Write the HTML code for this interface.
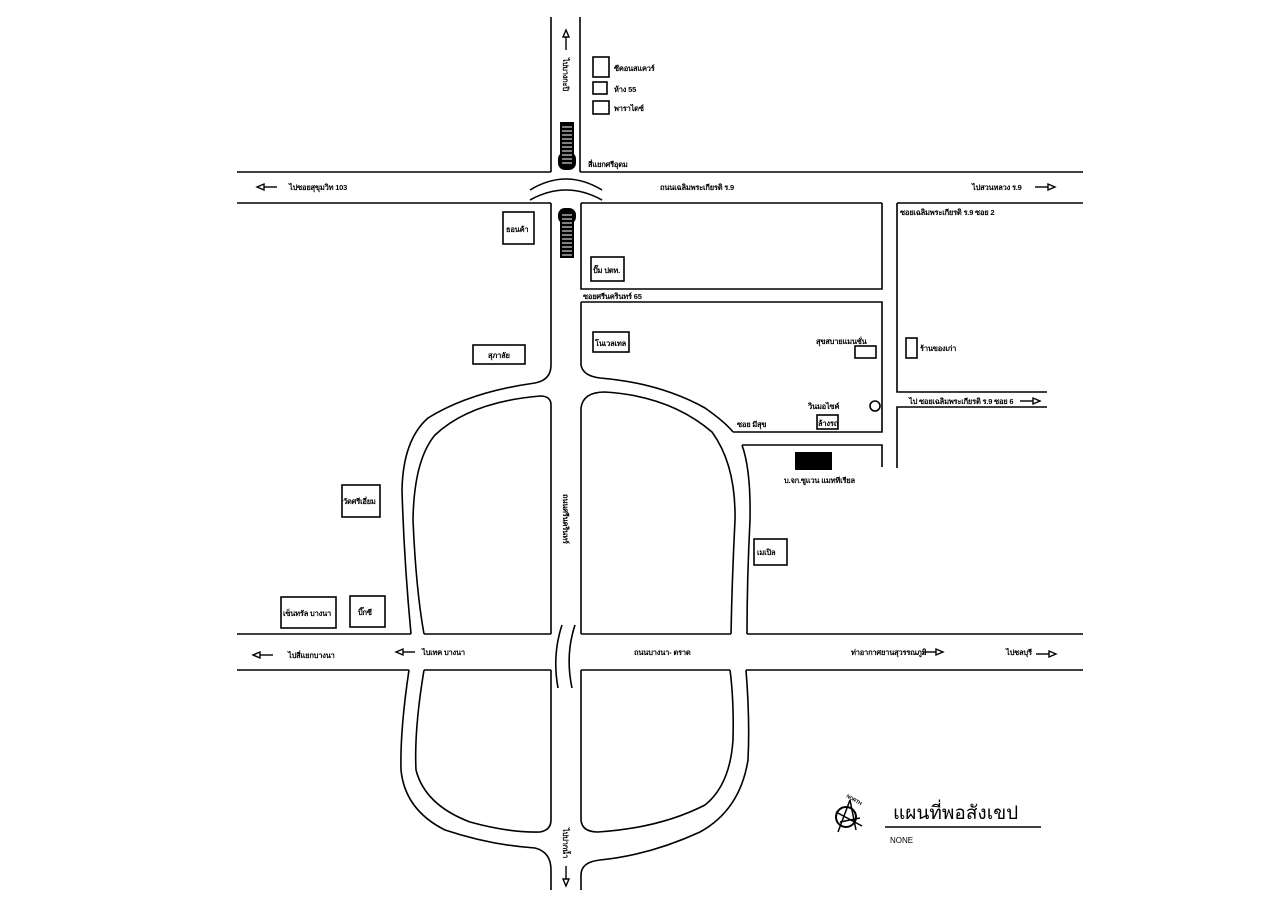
<!DOCTYPE html>
<html><head><meta charset="utf-8"><style>
html,body{margin:0;padding:0;background:#fff;width:1280px;height:905px;overflow:hidden}
svg{display:block}
text{font-family:"Liberation Sans","Noto Sans CJK SC",sans-serif;font-size:7.5px;font-weight:bold;fill:#000;letter-spacing:-0.2px}
</style></head><body>
<svg width="1280" height="905" viewBox="0 0 1280 905" xmlns="http://www.w3.org/2000/svg">
<g fill="none" stroke="#000" stroke-width="1.6">
<line x1="551" y1="17" x2="551" y2="172"/>
<line x1="580" y1="17" x2="580" y2="172"/>
<line x1="237" y1="172" x2="551" y2="172"/>
<line x1="580" y1="172" x2="1083" y2="172"/>
<line x1="237" y1="203" x2="551" y2="203"/>
<line x1="581" y1="203" x2="882" y2="203"/>
<line x1="897" y1="203" x2="1083" y2="203"/>
<path d="M530 190 Q566 168 602 190"/>
<path d="M530 200 Q566 180 602 200"/>
<path d="M882 203 V289 H581 V203"/>
<path d="M581 302 H882 V432 H733"/>
<path d="M742 445 H882 V467"/>
<path d="M897 203 V392 H1047"/>
<path d="M1047 407 H897 V468"/>
<path d="M551 203 V365 Q551 380 535 383 Q470 392 428 418 Q403 440 402 490 Q404 560 411 634"/>
<path d="M551 634 V405 Q551 396 540 396 Q470 402 435 435 Q414 460 413 520 Q416 590 424 634"/>
<path d="M581 302 V365 Q583 376 600 378 Q660 383 705 408 Q725 422 733 432"/>
<path d="M581 634 V408 Q583 392 605 392 Q670 396 712 432 Q736 465 735 520 Q732 580 731 634"/>
<path d="M742 445 Q751 470 750 520 Q747 580 747 634"/>
<line x1="237" y1="634" x2="411" y2="634"/>
<line x1="424" y1="634" x2="551" y2="634"/>
<line x1="581" y1="634" x2="731" y2="634"/>
<line x1="747" y1="634" x2="1083" y2="634"/>
<line x1="237" y1="670" x2="409" y2="670"/>
<line x1="424" y1="670" x2="551" y2="670"/>
<line x1="581" y1="670" x2="730" y2="670"/>
<line x1="746" y1="670" x2="1083" y2="670"/>
<path d="M562 625 Q552 655 558 688"/>
<path d="M575 625 Q565 655 572 688"/>
<path d="M409 670 Q400 730 401 770 Q405 810 445 830 Q490 845 535 848 Q551 852 551 870 V890"/>
<path d="M424 670 Q414 730 416 770 Q425 805 470 822 Q510 833 540 832 Q551 830 551 820 V670"/>
<path d="M581 670 V820 Q582 832 598 832 Q660 828 705 805 Q730 785 733 740 Q734 700 730 670"/>
<path d="M746 670 Q750 720 748 760 Q740 810 700 832 Q650 855 600 860 Q581 862 581 875 V890"/>
<rect x="593" y="57" width="16" height="20"/>
<rect x="593" y="82" width="14" height="12"/>
<rect x="593" y="101" width="16" height="13"/>
<rect x="503" y="212" width="31" height="32"/>
<rect x="591" y="257" width="33" height="24"/>
<rect x="473" y="345" width="52" height="19"/>
<rect x="593" y="332" width="36" height="20"/>
<rect x="855" y="346" width="21" height="12"/>
<circle cx="875" cy="406" r="5"/>
<rect x="817" y="415" width="21" height="14"/>
<rect x="906" y="338" width="11" height="20"/>
<rect x="342" y="485" width="38" height="32"/>
<rect x="281" y="597" width="55" height="31"/>
<rect x="350" y="596" width="35" height="31"/>
<rect x="754" y="539" width="33" height="26"/>
<line x1="885" y1="827" x2="1041" y2="827"/>
<circle cx="846" cy="817" r="10" stroke-width="2"/>
<path d="M850 800 L838 832 M850 800 L856 830 M836 812 L862 826 M840 822 L860 818" stroke-width="1.5"/>
</g>
<g fill="#fff" stroke="#000" stroke-width="1.4">
<path d="M263 187 H277"/><path d="M257 187 l7 -3 v6 z"/>
<path d="M1035 187 H1049"/><path d="M1055 187 l-7 -3 v6 z"/>
<path d="M1020 401 H1034"/><path d="M1040 401 l-7 -3 v6 z"/>
<path d="M259 655 H273"/><path d="M253 655 l7 -3 v6 z"/>
<path d="M402 652 H415"/><path d="M396 652 l7 -3 v6 z"/>
<path d="M923 652 H937"/><path d="M943 652 l-7 -3 v6 z"/>
<path d="M1036 654 H1050"/><path d="M1056 654 l-7 -3 v6 z"/>
<path d="M566 36 V50"/><path d="M566 30 l-3 7 h6 z"/>
<path d="M566 866 V880"/><path d="M566 886 l-3 -7 h6 z"/>
</g>
<g fill="#000">
<rect x="560" y="122" width="14" height="40"/>
<rect x="558" y="152" width="18" height="18" rx="7"/>
<rect x="560" y="216" width="14" height="42"/>
<rect x="558" y="208" width="18" height="16" rx="7"/>
<rect x="795" y="452" width="37" height="18"/>
</g>
<g stroke="#fff" stroke-width="1">
<path d="M562 127h10M562 131h10M562 135h10M562 139h10M562 143h10M562 147h10M562 151h10M562 155h10M562 159h10M562 163h10"/>
<path d="M562 215h10M562 219h10M562 223h10M562 227h10M562 231h10M562 235h10M562 239h10M562 243h10M562 247h10M562 251h10M562 255h10"/>
</g>
<text x="614" y="71">ซีคอนสแควร์</text>
<text x="614" y="92">ห้าง 55</text>
<text x="614" y="111">พาราไดซ์</text>
<text x="588" y="167">สี่แยกศรีอุดม</text>
<text x="660" y="190">ถนนเฉลิมพระเกียรติ ร.9</text>
<text x="289" y="190">ไปซอยสุขุมวิท 103</text>
<text x="972" y="190">ไปสวนหลวง ร.9</text>
<text x="506" y="232">ธอนค้า</text>
<text x="593" y="273">ปั๊ม ปตท.</text>
<text x="583" y="299">ซอยศรีนครินทร์ 65</text>
<text x="488" y="358">สุภาลัย</text>
<text x="595" y="346">โนเวลเทล</text>
<text x="816" y="344">สุขสบายแมนชั่น</text>
<text x="808" y="409">วินมอไซค์</text>
<text x="737" y="427">ซอย มีสุข</text>
<text x="818" y="426">ล้างรถ</text>
<text x="784" y="483">บ.จก.ซูแวน แมททีเรียล</text>
<text x="900" y="215">ซอยเฉลิมพระเกียรติ ร.9 ซอย 2</text>
<text x="920" y="351">ร้านของเก่า</text>
<text x="909" y="404">ไป ซอยเฉลิมพระเกียรติ ร.9 ซอย 6</text>
<text x="343" y="504">วัดศรีเอี่ยม</text>
<text x="283" y="616">เซ็นทรัล บางนา</text>
<text x="358" y="615">บิ๊กซี</text>
<text x="288" y="658">ไปสี่แยกบางนา</text>
<text x="422" y="655">ไบเทค บางนา</text>
<text x="634" y="655">ถนนบางนา- ตราด</text>
<text x="851" y="655">ท่าอากาศยานสุวรรณภูมิ</text>
<text x="1006" y="655">ไปชลบุรี</text>
<text x="757" y="555">เมเปิล</text>
<text transform="translate(563,494) rotate(90)">ถนนศรีนครินทร์</text>
<text transform="translate(563,58) rotate(90)">ไปบางกะปิ</text>
<text transform="translate(563,828) rotate(90)">ไปปากน้ำ</text>
<text x="893" y="819" style="font-size:19px;font-weight:normal;letter-spacing:0">แผนที่พอสังเขป</text>
<text x="890" y="843" style="font-size:8px;font-weight:normal;letter-spacing:0">NONE</text>
<text transform="translate(846,797) rotate(30)" style="font-size:5px">NORTH</text>
</svg>
</body></html>
